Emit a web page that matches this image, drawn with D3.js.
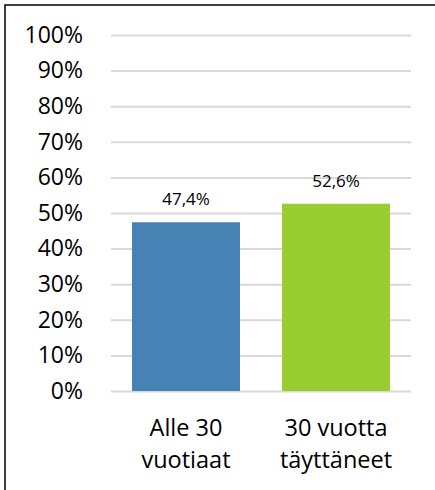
<!DOCTYPE html>
<html>
<head>
<meta charset="utf-8">
<script src="https://cdn.jsdelivr.net/npm/d3@7"></script>
<style>
html,body{margin:0;padding:0;background:#fff;}
svg{display:block;}
text{font-family:"Open Sans",Lato,sans-serif;fill:#000;}
</style>
</head>
<body>
<svg id="chart" width="435" height="490"></svg>
<script>
const categories = [["Alle 30","vuotiaat"],["30 vuotta","täyttäneet"]];
const values = [47.4, 52.6];
const labels = ["47,4%","52,6%"];
const colors = ["#4682B4","#9ACD32"];
const yTicks = [0,10,20,30,40,50,60,70,80,90,100];

(function(){
const svg = d3.select("#chart");
const mL = 111, mR = 411, mT = 35, mB = 391;

svg.append("rect").attr("x",5).attr("y",5).attr("width",460).attr("height",520)
  .attr("fill","none").attr("stroke","#000").attr("stroke-width",1.5);

const x = d3.scaleBand().domain(d3.range(values.length)).range([mL,mR]).paddingInner(0.28).paddingOuter(0.14);
const y = d3.scaleLinear().domain([0,100]).range([mB,mT]);

const yAxis = d3.axisLeft(y).tickValues(yTicks).tickFormat(d=>d+"%").tickSize(-(mR-mL)).tickPadding(28);
const gy = svg.append("g").attr("transform",`translate(${mL},0)`).call(yAxis);
gy.select(".domain").remove();
gy.selectAll(".tick line").attr("stroke","#d9d9d9").attr("stroke-width",2);
gy.selectAll(".tick text").attr("font-size",23).attr("font-family","Open Sans").attr("fill","#000");

svg.append("g").selectAll("text").data(values).join("text")
  .attr("x",(d,i)=>x(i)+x.bandwidth()/2).attr("y",d=>y(d)-17)
  .attr("text-anchor","middle").attr("font-size",17)
  .text((d,i)=>labels[i]);

svg.append("g").selectAll("rect").data(values).join("rect")
  .attr("x",(d,i)=>x(i)).attr("width",x.bandwidth())
  .attr("y",d=>y(d)).attr("height",d=>y(0)-y(d))
  .attr("fill",(d,i)=>colors[i]);

const gx = svg.append("g");
categories.forEach((c,i)=>{
  const cx = x(i)+x.bandwidth()/2;
  const t = gx.append("text").attr("text-anchor","middle").attr("font-size",23.5);
  c.forEach((line,j)=>{
    t.append("tspan").attr("x",cx).attr("y",436+j*32).text(line);
  });
});
})();
</script>
</body>
</html>
